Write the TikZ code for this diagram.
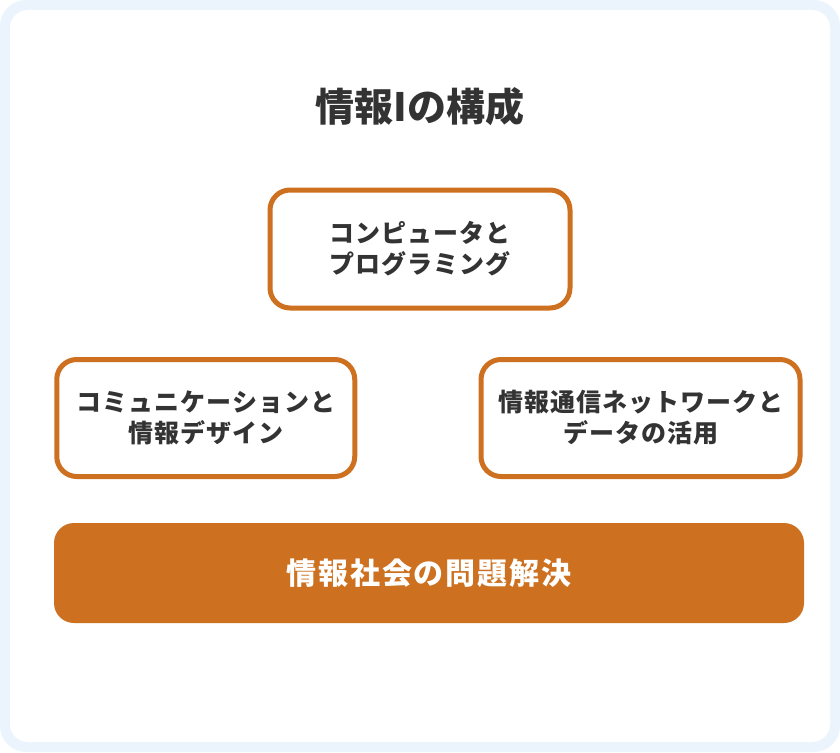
\documentclass[tikz,border=0pt]{standalone}
\usepackage{fontspec}
\setmainfont{Noto Sans CJK JP}
\usetikzlibrary{positioning}

\definecolor{bgblue}{HTML}{EBF4FD}
\definecolor{accent}{HTML}{CD7120}
\definecolor{ink}{HTML}{333333}

\tikzset{
  topic/.style={draw=accent, line width=5pt, fill=white, rounded corners=20pt,
    inner sep=0pt, align=center, text=ink,
    font=\fontsize{25}{31}\selectfont\bfseries\addfontfeatures{LetterSpace=4}},
  goal/.style={fill=accent, rounded corners=20pt, inner sep=0pt, text=white,
    minimum width=750pt, minimum height=100pt,
    font=\fontsize{30}{36}\selectfont\bfseries\addfontfeatures{LetterSpace=6}},
}

\begin{document}
\begin{tikzpicture}[x=1pt,y=-1pt]
\useasboundingbox (0,0) rectangle (840,752);
\fill[bgblue, rounded corners=26pt] (0,0) rectangle (840,752);
\fill[white, rounded corners=18pt] (10,10) rectangle (830,742);
\node[text=ink, font=\fontsize{39}{44}\selectfont\bfseries] (title) at (420,107) {情報Iの構成};
\node[topic, minimum width=300pt, minimum height=118pt] (prog) at (420,249) {コンピュータと\\プログラミング};
\node[topic, minimum width=298pt, minimum height=117pt] (comm) at (205.75,418) {コミュニケーションと\\情報デザイン};
\node[topic, minimum width=319pt, minimum height=117pt] (net) at (640.5,418) {情報通信ネットワークと\\データの活用};
\node[goal] (solve) at (429,573) {情報社会の問題解決};
\end{tikzpicture}
\end{document}
